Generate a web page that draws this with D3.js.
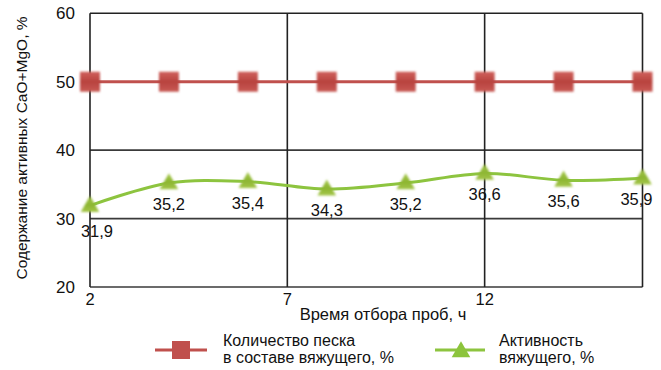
<!DOCTYPE html>
<html>
<head>
<meta charset="utf-8">
<script src="https://cdn.jsdelivr.net/npm/d3@7"></script>
<style>
  html, body { margin: 0; padding: 0; background: #fff; }
  svg { display: block; }
  text { font-family: "Liberation Sans", Arial, sans-serif; fill: #111; }
</style>
</head>
<body>
<svg id="chart" width="661" height="370"></svg>
<script>
// Sampling time, h
const sampleTimes = [2, 4, 6, 8, 10, 12, 14, 16];
// Sand content in the binder, %
const sandContent = [50, 50, 50, 50, 50, 50, 50, 50];
// Binder activity (CaO+MgO), %
const binderActivity = [31.9, 35.2, 35.4, 34.3, 35.2, 36.6, 35.6, 35.9];
const activityLabels = ["31,9", "35,2", "35,4", "34,3", "35,2", "36,6", "35,6", "35,9"];
const xTicks = [2, 7, 12];
const yTicks = [20, 30, 40, 50, 60];

const yTitle = "Содержание активных CaO+MgO, %";
const xTitle = "Время отбора проб, ч";
const legendSand = ["Количество песка", "в составе вяжущего, %"];
const legendActivity = ["Активность", "вяжущего, %"];

const svg = d3.select("#chart");
const m = { left: 90, top: 13.3, right: 642.5, bottom: 287 };

const x = d3.scaleLinear().domain([2, 16]).range([m.left, m.right]);
const y = d3.scaleLinear().domain([20, 60]).range([m.bottom, m.top]);

const redLine = "#c0504d";
const greenLine = "#8dc43f";

// marker gradients and soft edge
const defs = svg.append("defs");
const gSq = defs.append("linearGradient").attr("id", "sq").attr("x1", 0).attr("y1", 0).attr("x2", 0).attr("y2", 1);
gSq.append("stop").attr("offset", "0%").attr("stop-color", "#d0625c");
gSq.append("stop").attr("offset", "50%").attr("stop-color", "#b8433f");
gSq.append("stop").attr("offset", "100%").attr("stop-color", "#c85a54");
const gTr = defs.append("linearGradient").attr("id", "tri").attr("x1", 0).attr("y1", 0).attr("x2", 0).attr("y2", 1);
gTr.append("stop").attr("offset", "0%").attr("stop-color", "#a8c94e");
gTr.append("stop").attr("offset", "55%").attr("stop-color", "#8cb531");
gTr.append("stop").attr("offset", "100%").attr("stop-color", "#a5c64a");
defs.append("filter").attr("id", "soft").attr("x", "-30%").attr("y", "-30%").attr("width", "160%").attr("height", "160%")
  .append("feGaussianBlur").attr("stdDeviation", 0.8);

// grid
const grid = svg.append("g");
grid.selectAll("line.h").data(yTicks).join("line")
  .attr("x1", m.left).attr("x2", m.right)
  .attr("y1", d => y(d)).attr("y2", d => y(d))
  .attr("stroke", d => (d === 60 ? "#222" : "#3a3a3a")).attr("stroke-width", 1.6);
grid.selectAll("line.v").data(xTicks.slice(1).concat([16])).join("line")
  .attr("x1", d => x(d)).attr("x2", d => x(d))
  .attr("y1", m.top).attr("y2", m.bottom)
  .attr("stroke", "#222").attr("stroke-width", 1.6);
grid.append("line")
  .attr("x1", m.left).attr("x2", m.left).attr("y1", m.top).attr("y2", m.bottom)
  .attr("stroke", "#222").attr("stroke-width", 1.6);

// y tick labels
svg.append("g").selectAll("text").data(yTicks).join("text")
  .attr("x", 75).attr("y", d => y(d)).attr("dy", "0.36em")
  .attr("text-anchor", "end").attr("font-size", 17)
  .text(d => d);

// x tick labels
svg.append("g").selectAll("text").data(xTicks).join("text")
  .attr("x", d => x(d)).attr("y", 305)
  .attr("text-anchor", "middle").attr("font-size", 16.5)
  .text(d => d);

// axis titles
svg.append("text").attr("x", 383).attr("y", 320)
  .attr("text-anchor", "middle").attr("font-size", 16.5).text(xTitle);
svg.append("text")
  .attr("transform", "translate(27,148) rotate(-90)")
  .attr("text-anchor", "middle").attr("font-size", 15.5).text(yTitle);

// sand content series
const sandData = sampleTimes.map((t, i) => [t, sandContent[i]]);
svg.append("path")
  .attr("d", d3.line().x(d => x(d[0])).y(d => y(d[1]))(sandData))
  .attr("fill", "none").attr("stroke", redLine).attr("stroke-width", 3);
svg.append("g").selectAll("rect").data(sandData).join("rect")
  .attr("x", d => x(d[0]) - 10).attr("y", d => y(d[1]) - 10)
  .attr("width", 20).attr("height", 20)
  .attr("fill", "url(#sq)").attr("filter", "url(#soft)");

// activity series
const actData = sampleTimes.map((t, i) => [t, binderActivity[i]]);
svg.append("path")
  .attr("d", d3.line().curve(d3.curveCatmullRom.alpha(0)).x(d => x(d[0])).y(d => y(d[1]))(actData))
  .attr("fill", "none").attr("stroke", greenLine).attr("stroke-width", 3);
const tri = d3.symbol().type(d3.symbolTriangle).size(150);
svg.append("g").selectAll("path").data(actData).join("path")
  .attr("transform", d => `translate(${x(d[0])},${y(d[1]) + 1})`)
  .attr("d", tri).attr("fill", "url(#tri)").attr("filter", "url(#soft)");

// value labels
svg.append("g").selectAll("text").data(actData).join("text")
  .attr("x", (d, i) => x(d[0]) + (i === 0 ? 7 : i === actData.length - 1 ? -6 : 0))
  .attr("y", (d, i) => y(d[1]) + (i === 0 ? 31 : 27))
  .attr("text-anchor", "middle").attr("font-size", 16.5)
  .text((d, i) => activityLabels[i]);

// legend
const leg = svg.append("g");
leg.append("line").attr("x1", 155).attr("x2", 207).attr("y1", 350).attr("y2", 350)
  .attr("stroke", redLine).attr("stroke-width", 3);
leg.append("rect").attr("x", 172).attr("y", 341).attr("width", 18).attr("height", 18).attr("fill", "#c0504d");
leg.selectAll("text.s").data(legendSand).join("text")
  .attr("x", 223).attr("y", (d, i) => 346 + i * 17).attr("font-size", 16).text(d => d);

leg.append("line").attr("x1", 435).attr("x2", 485).attr("y1", 350).attr("y2", 350)
  .attr("stroke", greenLine).attr("stroke-width", 3);
leg.append("path").attr("transform", "translate(461,352)")
  .attr("d", d3.symbol().type(d3.symbolTriangle).size(150)).attr("fill", "#8cc43c");
leg.selectAll("text.a").data(legendActivity).join("text")
  .attr("x", 499).attr("y", (d, i) => 346 + i * 17).attr("font-size", 16).text(d => d);
</script>
</body>
</html>
